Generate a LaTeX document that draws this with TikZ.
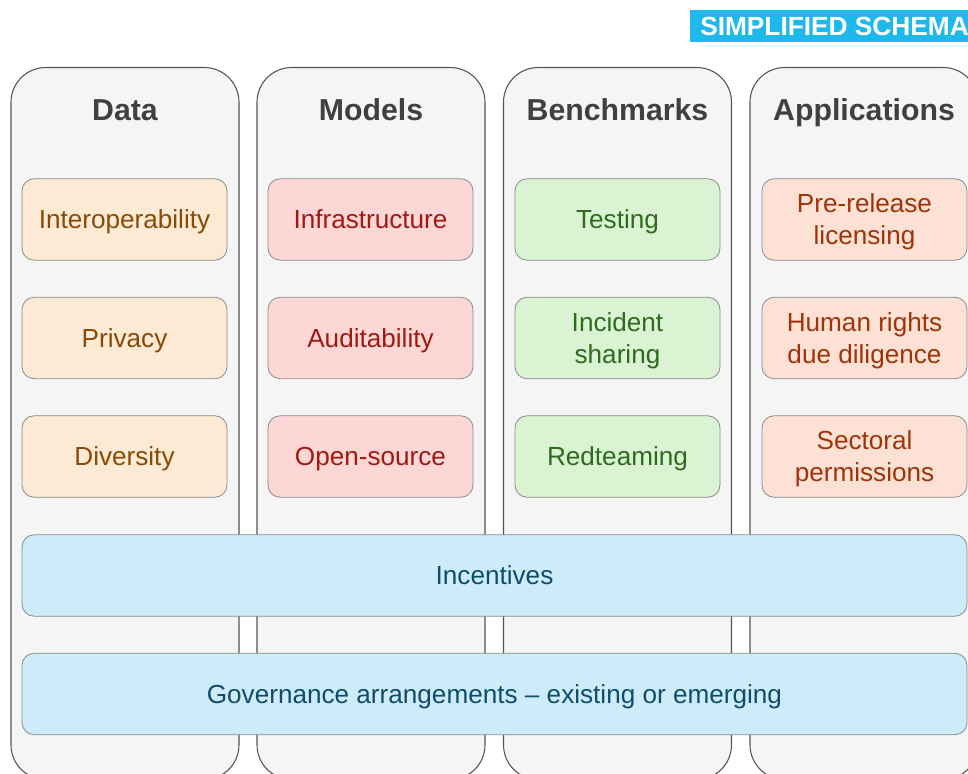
\documentclass[tikz,border=0pt]{standalone}
\usepackage{fontspec}
\setmainfont{Liberation Sans}
\usetikzlibrary{positioning}

\definecolor{colfill}{HTML}{F5F5F5}
\definecolor{colline}{HTML}{555555}
\definecolor{itemline}{HTML}{8A8A8A}
\definecolor{headtext}{HTML}{404040}
\definecolor{datafill}{HTML}{FDEAD4}
\definecolor{datatext}{HTML}{8A4A06}
\definecolor{modelfill}{HTML}{FDD7D5}
\definecolor{modeltext}{HTML}{A01A12}
\definecolor{benchfill}{HTML}{DAF4D3}
\definecolor{benchtext}{HTML}{2E6B1E}
\definecolor{appfill}{HTML}{FDE1D5}
\definecolor{apptext}{HTML}{9E3409}
\definecolor{govfill}{HTML}{CDEBF8}
\definecolor{govtext}{HTML}{0F4D6C}
\definecolor{tagfill}{HTML}{1FB8EA}

\begin{document}
\begin{tikzpicture}[x=0.75pt,y=0.75pt,yscale=-1,xscale=1,
    column/.style={draw=colline, fill=colfill, line width=0.8pt, rounded corners=26pt, minimum width=171pt, minimum height=534pt, inner sep=0pt, anchor=north},
    head/.style={font=\fontsize{22.7}{26}\selectfont\bfseries, text=headtext, text depth=0pt},
    item/.style={draw=itemline, line width=0.6pt, rounded corners=9pt, minimum width=153.75pt, minimum height=61pt, align=center, inner sep=0pt, text depth=0pt, font=\fontsize{19.6}{24}\selectfont},
    bar/.style={item, fill=govfill, text=govtext, minimum width=708.75pt}]
    \clip (0,0) rectangle (968,774);

    % columns
    \node [column] (dataCol)  at (125,67) {};
    \node [column] (modelCol) at (371,67) {};
    \node [column] (benchCol) at (617.5,67) {};
    \node [column] (appCol)   at (864,67) {};

    \node [head] (dataHead)  at (125,110) {Data};
    \node [head] (modelHead) at (371,110) {Models};
    \node [head] (benchHead) at (617.5,110) {Benchmarks};
    \node [head] (appHead)   at (864,110) {Applications};

    % data
    \node [item, fill=datafill, text=datatext] (interop)   at (124.5,219.5) {Interoperability};
    \node [item, fill=datafill, text=datatext] (privacy)   at (124.5,338) {Privacy};
    \node [item, fill=datafill, text=datatext] (diversity) at (124.5,456.5) {Diversity};

    % models
    \node [item, fill=modelfill, text=modeltext] (infra)  at (370.5,219.5) {Infrastructure};
    \node [item, fill=modelfill, text=modeltext] (audit)  at (370.5,338) {Auditability};
    \node [item, fill=modelfill, text=modeltext] (opensrc) at (370.5,456.5) {Open-source};

    % benchmarks
    \node [item, fill=benchfill, text=benchtext] (testing)  at (617.5,219.5) {Testing};
    \node [item, fill=benchfill, text=benchtext] (incident) at (617.5,338) {Incident\\sharing};
    \node [item, fill=benchfill, text=benchtext] (redteam)  at (617.5,456.5) {Redteaming};

    % applications
    \node [item, fill=appfill, text=apptext] (prerelease) at (864.5,219.5) {Pre-release\\licensing};
    \node [item, fill=appfill, text=apptext] (humanrights) at (864.5,338) {Human rights\\due diligence};
    \node [item, fill=appfill, text=apptext] (sectoral)   at (864.5,456.5) {Sectoral\\permissions};

    % across all columns
    \node [bar] (incentives) at (494.5,575.5) {Incentives};
    \node [bar] (governance) at (494.5,694) {Governance arrangements -- existing or emerging};

    \node [fill=tagfill, text=white, font=\fontsize{19.7}{22}\selectfont\bfseries, minimum height=24pt, inner xsep=7.5pt, inner ysep=0pt, anchor=north west] (schemaTag) at (690,10) {SIMPLIFIED SCHEMA};
\end{tikzpicture}
\end{document}
